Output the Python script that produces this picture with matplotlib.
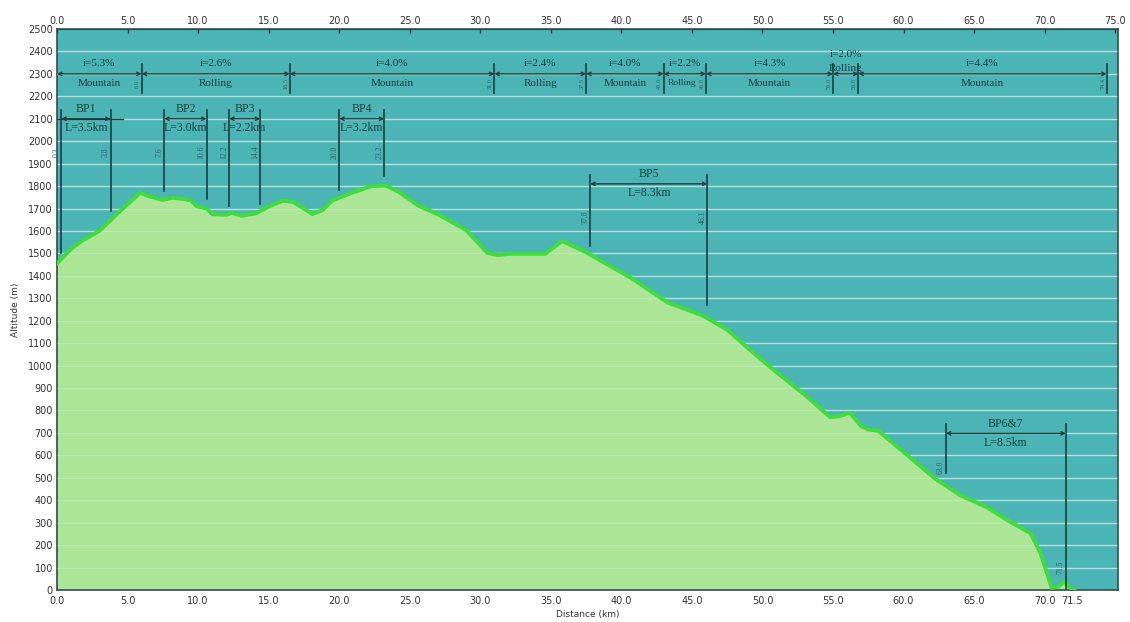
import numpy as np
import matplotlib
matplotlib.use("Agg")
import matplotlib.pyplot as plt
import matplotlib.transforms as mtransforms

# ---------------- data ----------------
distance_km = [0.0, 1.0, 1.8, 3.0, 4.5, 5.9, 6.5, 7.5, 8.2, 9.0, 9.5, 9.9, 10.6, 11.0,
               12.0, 12.4, 13.1, 14.1, 15.0, 16.0, 16.7, 17.5, 18.1, 18.8, 19.5, 20.9,
               22.3, 23.3, 24.2, 25.6, 27.1, 29.0, 30.5, 31.3, 32.0, 34.6, 35.8, 37.5,
               40.7, 43.3, 45.7, 47.5, 49.3, 51.0, 53.0, 54.8, 55.5, 56.2, 57.0, 57.5,
               58.2, 59.6, 62.2, 64.0, 65.9, 67.6, 69.0, 69.7, 70.5, 71.0, 71.4, 71.7, 72.1]
altitude_m = [1455, 1520, 1557, 1600, 1690, 1770, 1755, 1738, 1748, 1742, 1735, 1710, 1700, 1675,
              1672, 1680, 1668, 1678, 1708, 1735, 1730, 1700, 1675, 1692, 1735, 1770,
              1800, 1802, 1775, 1713, 1671, 1604, 1502, 1492, 1498, 1498, 1555, 1505,
              1390, 1280, 1225, 1160, 1060, 970, 870, 770, 775, 790, 730, 715,
              710, 636, 498, 423, 369, 302, 253, 165, 10, 15, 38, 15, 0]

top_ticks = [0, 5, 10, 15, 20, 25, 30, 35, 40, 45, 50, 55, 60, 65, 70, 75]
bottom_ticks = [0, 5, 10, 15, 20, 25, 30, 35, 40, 45, 50, 55, 60, 65, 70, 71.5]
y_ticks = list(range(0, 2501, 100))

seg_bounds = [0.0, 6.0, 16.5, 31.0, 37.5, 43.0, 46.0, 55.0, 56.8, 74.4]
seg_grade = ["i=5.3%", "i=2.6%", "i=4.0%", "i=2.4%", "i=4.0%", "i=2.2%", "i=4.3%", "i=2.0%", "i=4.4%"]
seg_type = ["Mountain", "Rolling", "Mountain", "Rolling", "Mountain", "Rolling", "Mountain", "Rolling", "Mountain"]

bp_names = ["BP1", "BP2", "BP3", "BP4", "BP5", "BP6&7"]
bp_start = [0.3, 7.6, 12.2, 20.0, 37.8, 63.0]
bp_end = [3.8, 10.6, 14.4, 23.2, 46.1, 71.5]
bp_len = ["L=3.5km", "L=3.0km", "L=2.2km", "L=3.2km", "L=8.3km", "L=8.5km"]
bp_level = [2100, 2100, 2100, 2100, 1810, 698]
bp_start_bottom = [1500, 1780, 1713, 1784, 1535, 520]
bp_end_bottom = [1690, 1744, 1722, 1846, 1268, 0]

# ---------------- style ----------------
TEAL = "#4bb4b4"
FILL = "#ade597"
LINE = "#3fdc3f"
DARK = "#1d3f3f"
LBL = "#2a6464"
SERIF = ["Liberation Serif", "DejaVu Serif"]

fig = plt.figure(figsize=(11.3, 6.22), dpi=100)
ax = fig.add_axes([57 / 1130, 32 / 622, 1061 / 1130, 561 / 622])
ax.set_facecolor(TEAL)
ax.set_xlim(0, 75.2)
ax.set_ylim(0, 2500)

for yv in y_ticks[1:-1]:
    ax.axhline(yv, color="white", alpha=0.5, lw=1.0, zorder=1)
    ax.axhline(yv, color="white", alpha=0.18, lw=1.0, zorder=3)

ax.fill_between(distance_km, altitude_m, 0, color=FILL, zorder=2, lw=0)
ax.plot(distance_km, altitude_m, color=LINE, lw=2.8, zorder=4, solid_joinstyle="round")

# y axis
ax.set_yticks(y_ticks)
ax.set_yticklabels([str(v) for v in y_ticks], fontsize=7, color="#333333")
ax.tick_params(axis="y", length=0, pad=3)
ax.set_ylabel("Altitude (m)", fontsize=6.5, color="#333333", labelpad=6)

# bottom x axis
ax.set_xticks(bottom_ticks)
ax.set_xticklabels(["%.1f" % v for v in bottom_ticks], fontsize=7, color="#333333")
ax.tick_params(axis="x", length=0, pad=4)
ax.set_xlabel("Distance (km)", fontsize=6.5, color="#333333", labelpad=3)
last_lbl = ax.get_xticklabels()[-1]
last_lbl.set_transform(last_lbl.get_transform() +
                       mtransforms.ScaledTranslation(6 / 100, 0, fig.dpi_scale_trans))

# top x axis
sec = ax.secondary_xaxis("top")
sec.set_xticks(top_ticks)
sec.set_xticklabels(["%.1f" % v for v in top_ticks], fontsize=7, color="#333333")
sec.tick_params(axis="x", direction="in", length=3, width=1, color="#333333", pad=2)
sec.spines["top"].set_color("#333333")

for s in ax.spines.values():
    s.set_color("#2f4f4f")
    s.set_linewidth(1.2)

# ---------------- segment annotations ----------------
for k in range(len(seg_grade)):
    a, b = seg_bounds[k], seg_bounds[k + 1]
    ax.annotate("", xy=(b, 2300), xytext=(a, 2300),
                arrowprops=dict(arrowstyle="<->", color=DARK, lw=1.0,
                                shrinkA=0, shrinkB=0, mutation_scale=6), zorder=6)
    mid = (a + b) / 2
    narrow = b - a <= 3.5
    if b - a < 2.5:
        ax.text(mid, 2385, seg_grade[k], ha="center", va="center", fontsize=8,
                family=SERIF, color=DARK, zorder=7)
        ax.text(mid, 2322, seg_type[k], ha="center", va="center", fontsize=8,
                family=SERIF, color=DARK, zorder=7)
    else:
        ax.text(mid, 2345, seg_grade[k], ha="center", va="center", fontsize=8,
                family=SERIF, color=DARK, zorder=7)
        ax.text(mid - (0.2 if narrow else 0), 2258, seg_type[k], ha="center",
                va="center", fontsize=6.8 if narrow else 8, family=SERIF,
                color=DARK, zorder=7)
for b in seg_bounds[1:]:
    ax.plot([b, b], [2215, 2345], color=DARK, lw=1.2, zorder=6)
    ax.text(b - 0.28, 2255, "%.1f" % b, rotation=90, ha="center", va="center",
            fontsize=4.5, family=SERIF, color=LBL, zorder=7)

# ---------------- BP annotations ----------------
for k in range(len(bp_names)):
    a, b, yl = bp_start[k], bp_end[k], bp_level[k]
    ax.plot([a, a], [bp_start_bottom[k], yl + 40], color=DARK, lw=1.2, zorder=6)
    ax.plot([b, b], [bp_end_bottom[k], yl + 40], color=DARK, lw=1.2, zorder=6)
    ax.annotate("", xy=(b, yl), xytext=(a, yl),
                arrowprops=dict(arrowstyle="<->", color=DARK, lw=1.0,
                                shrinkA=0, shrinkB=0, mutation_scale=6), zorder=6)
    mid = (a + b) / 2
    ax.text(mid, yl + 42, bp_names[k], ha="center", va="center", fontsize=8.5,
            family=SERIF, color=DARK, zorder=7)
    ax.text(mid, yl - 42, bp_len[k], ha="center", va="center", fontsize=8.5,
            family=SERIF, color=DARK, zorder=7)
    ax.text(a - 0.35, yl - 150, "%.1f" % a, rotation=90, ha="center", va="center",
            fontsize=5.5, family=SERIF, color=LBL, zorder=7)
    ax.text(b - 0.35, yl - 150 if k < 5 else 100, "%.1f" % b, rotation=90,
            ha="center", va="center", fontsize=5.5, family=SERIF, color=LBL, zorder=7)
# BP1 dimension line extends beyond its extension lines
ax.plot([0, 4.7], [2100, 2100], color=DARK, lw=1.0, zorder=6)

fig.savefig("out.png", dpi=100, facecolor="white")
